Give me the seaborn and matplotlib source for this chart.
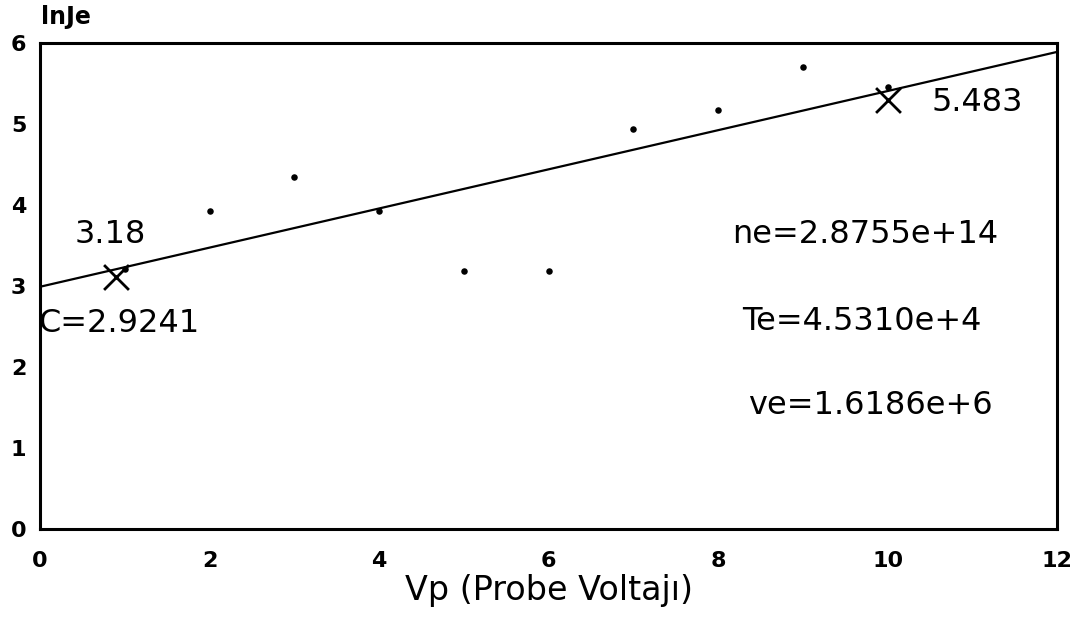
import matplotlib
matplotlib.use("Agg")
import matplotlib.pyplot as plt
import seaborn as sns
import pandas as pd

# Data
vp = [1, 2, 3, 4, 5, 6, 7, 8, 9, 10]
lnje = [3.21, 3.93, 4.35, 3.93, 3.19, 3.19, 4.94, 5.17, 5.70, 5.46]
fit_x = [0, 12]
fit_y = [2.99, 5.89]
cross_x = [0.9, 10.0]
cross_y = [3.11, 5.30]
x_ticks = [0, 2, 4, 6, 8, 10, 12]
y_ticks = [0, 1, 2, 3, 4, 5, 6]
y_tick_labels = ["0", "1", "2", "3", "4", "5", "6"]

sns.set_theme(style="white")
plt.rcParams['font.family'] = ['DejaVu Sans']
plt.rcParams['text.color'] = 'black'

fig = plt.figure(figsize=(10.82, 6.23), dpi=100)
ax = fig.add_axes([0.037, 0.151, 0.940, 0.780])

df = pd.DataFrame({"Vp": vp, "lnJe": lnje})
sns.scatterplot(data=df, x="Vp", y="lnJe", ax=ax, color="black", s=22,
                edgecolor="black", linewidth=0)
sns.lineplot(x=fit_x, y=fit_y, ax=ax, color="black", linewidth=1.6)
sns.scatterplot(x=cross_x, y=cross_y, ax=ax, marker="x", color="black",
                s=320, linewidth=2.0)

ax.set_xlim(0, 12)
ax.set_ylim(0, 6)
ax.set_xticks(x_ticks)
ax.set_yticks(y_ticks)
ax.set_yticklabels(y_tick_labels)
ax.tick_params(axis="both", direction="in", length=9, width=2, colors="black",
               labelsize=16)
ax.tick_params(axis="x", pad=16)
ax.tick_params(axis="y", pad=10)
for lab in ax.get_xticklabels() + ax.get_yticklabels():
    lab.set_fontweight("bold")
for s in ax.spines.values():
    s.set_linewidth(2.2)
    s.set_color("black")

ax.set_xlabel("Vp (Probe Voltajı)", fontsize=24, color="black")
ax.xaxis.set_label_coords(0.5, -0.092)
ax.set_ylabel("")
fig.text(0.061, 0.972, "lnJe", fontsize=17, fontweight="bold", ha="center", va="center")

tfs = 23
ax.text(0.41, 3.63, "3.18", fontsize=tfs, ha="left", va="center")
ax.text(-0.02, 2.54, "C=2.9241", fontsize=tfs, ha="left", va="center")
ax.text(10.52, 5.26, "5.483", fontsize=tfs, ha="left", va="center")
ax.text(8.17, 3.63, "ne=2.8755e+14", fontsize=tfs, ha="left", va="center")
ax.text(8.28, 2.56, "Te=4.5310e+4", fontsize=tfs, ha="left", va="center")
ax.text(8.35, 1.53, "ve=1.6186e+6", fontsize=tfs, ha="left", va="center")

fig.savefig("out.png", dpi=100)
